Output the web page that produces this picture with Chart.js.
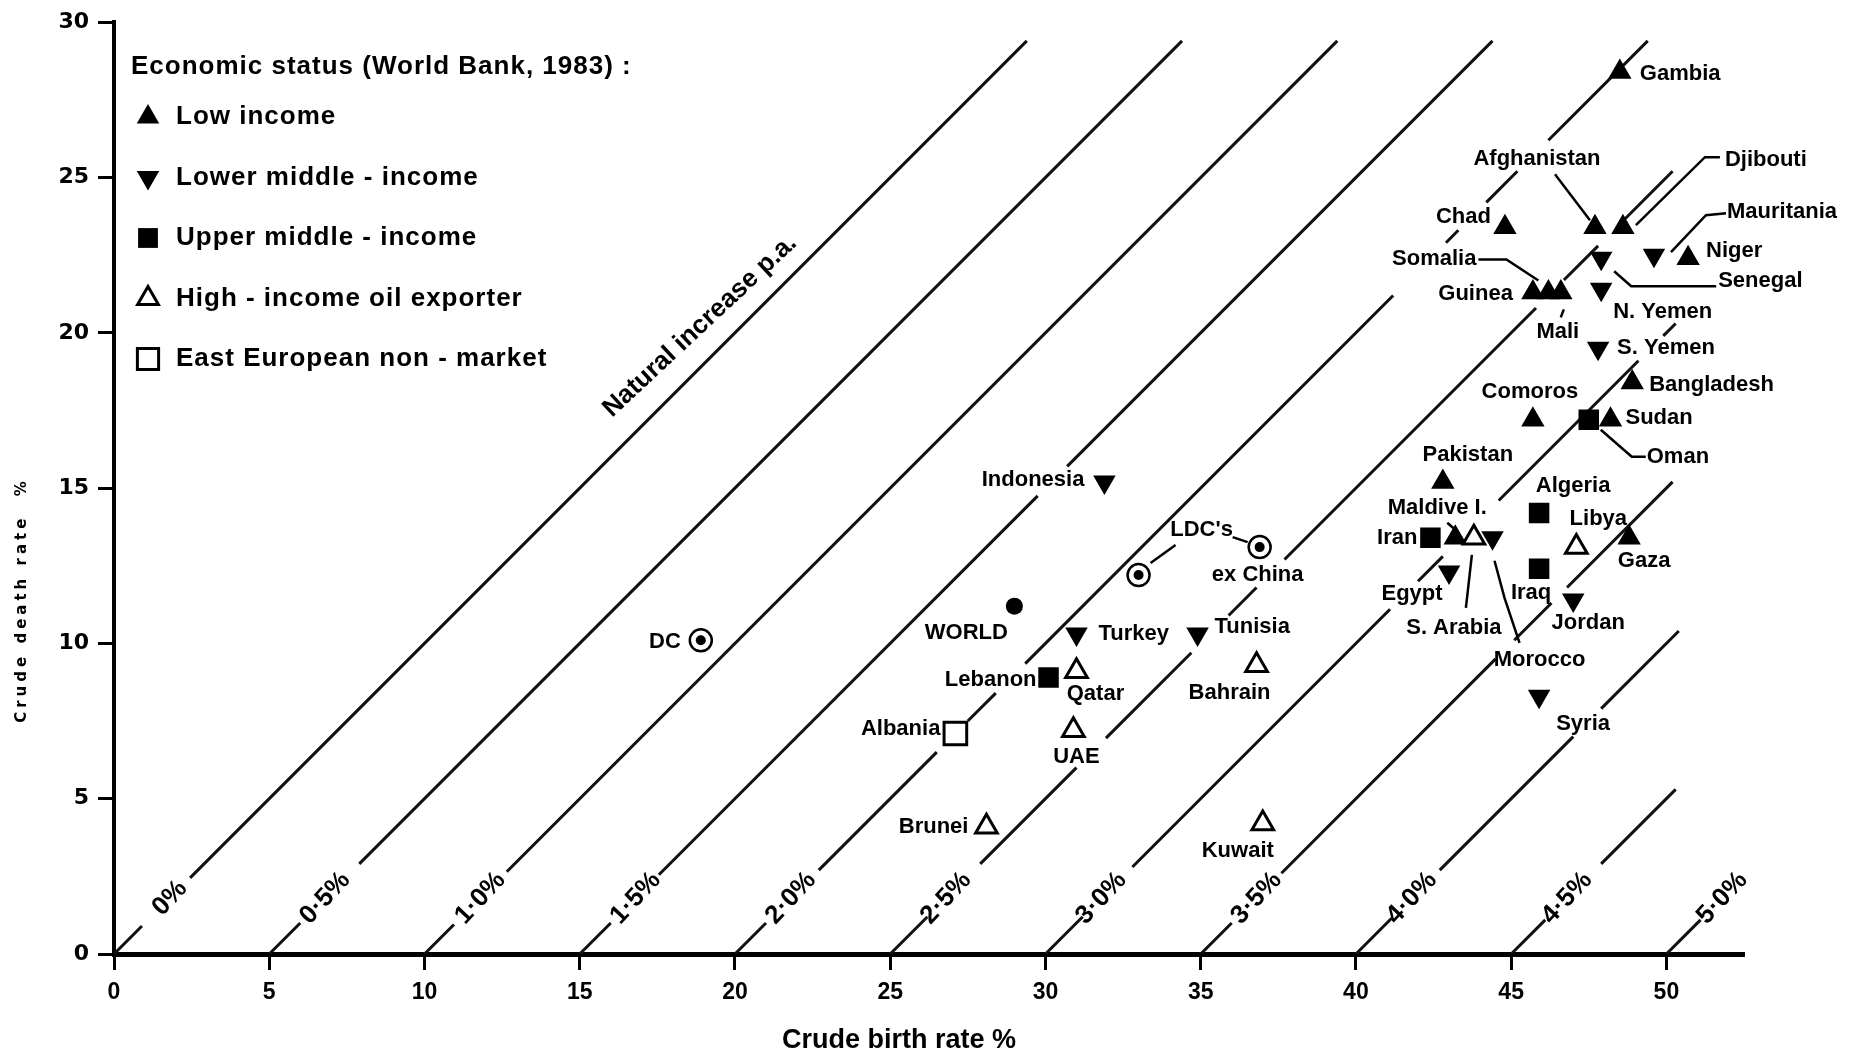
<!DOCTYPE html>
<html>
<head>
<meta charset="utf-8">
<title>Crude birth and death rates</title>
<script src="https://cdn.jsdelivr.net/npm/chart.js@4.4.0/dist/chart.umd.min.js"></script>
<style>
  html, body { margin: 0; padding: 0; background: #fff; }
  #wrap { width: 1864px; height: 1053px; }
</style>
</head>
<body>
<div id="wrap"><canvas id="chart" width="1864" height="1053"></canvas></div>
<script>
// Low income
const lowNames = ['Gambia', 'Afghanistan', 'Djibouti', 'Chad', 'Niger', 'Guinea', 'Somalia', 'Mali',
                  'Bangladesh', 'Comoros', 'Sudan', 'Pakistan', 'Maldive I.', 'Gaza'];
const lowBirth = [48.5, 47.7, 48.6, 44.8, 50.7, 45.7, 46.2, 46.6, 48.9, 45.7, 48.2, 42.8, 43.2, 48.8];
const lowDeath = [28.4, 23.4, 23.4, 23.4, 22.4, 21.3, 21.3, 21.3, 18.4, 17.2, 17.2, 15.2, 13.4, 13.4];

// Lower middle - income
const lowerMidNames = ['Senegal', 'Mauritania', 'N. Yemen', 'S. Yemen', 'Morocco', 'Egypt', 'Jordan',
                       'Syria', 'Indonesia', 'Turkey', 'Tunisia'];
const lowerMidBirth = [47.9, 49.6, 47.9, 47.8, 44.4, 43.0, 47.0, 45.9, 31.9, 31.0, 34.9];
const lowerMidDeath = [22.4, 22.5, 21.4, 19.5, 13.4, 12.3, 11.4, 8.3, 15.2, 10.3, 10.3];

// Upper middle - income
const upperMidNames = ['Oman', 'Iran', 'Algeria', 'Iraq', 'Lebanon'];
const upperMidBirth = [47.5, 42.4, 45.9, 45.9, 30.1];
const upperMidDeath = [17.2, 13.4, 14.2, 12.4, 8.9];

// High - income oil exporter
const oilNames = ['S. Arabia', 'Libya', 'Qatar', 'Bahrain', 'UAE', 'Brunei', 'Kuwait'];
const oilBirth = [43.8, 47.1, 31.0, 36.8, 30.9, 28.1, 37.0];
const oilDeath = [13.4, 13.1, 9.1, 9.3, 7.2, 4.1, 4.2];

// East European non - market
const eastNames = ['Albania'];
const eastBirth = [27.1];
const eastDeath = [7.1];

// World and country groups
const worldBirth = [29.0];
const worldDeath = [11.2];
const groupNames = ['DC', "LDC's", "LDC's ex China"];
const groupBirth = [18.9, 33.0, 36.9];
const groupDeath = [10.1, 12.2, 13.1];

// Natural increase lines: birth - death = rate
const rateValues = [0, 0.5, 1.0, 1.5, 2.0, 2.5, 3.0, 3.5, 4.0, 4.5, 5.0];
const rateLabels = ['0%', '0·5%', '1·0%', '1·5%', '2·0%', '2·5%', '3·0%', '3·5%', '4·0%', '4·5%', '5·0%'];
// visible stretches of each line, as death-rate ranges
const rateSegments = [
  [[0, 0.9], [2.45, 29.4]],
  [[0, 1.0], [2.9, 29.4]],
  [[0, 0.95], [2.65, 29.4]],
  [[0, 1.0], [2.55, 14.75], [15.7, 29.4]],
  [[0, 1.0], [2.7, 6.5], [7.5, 8.4], [9.35, 21.2], [22.9, 23.3], [24.2, 25.2], [26.2, 29.4]],
  [[0, 1.2], [2.9, 6.0], [6.95, 9.7], [10.9, 11.8], [12.7, 20.8], [21.7, 22.8], [23.6, 25.2]],
  [[0, 1.2], [2.8, 11.1], [12.0, 12.8], [14.6, 19.1], [19.9, 20.3]],
  [[0, 1.0], [2.6, 9.5], [10.1, 11.3], [11.8, 15.2]],
  [[0, 1.15], [2.7, 7.0], [7.9, 10.4]],
  [[0, 1.1], [2.9, 5.3]],
  [[0, 1.1]]
];

const xTicks = [0, 5, 10, 15, 20, 25, 30, 35, 40, 45, 50];
const yTicks = [0, 5, 10, 15, 20, 25, 30];

const FONT = '"Liberation Sans", Arial, sans-serif';

// label placement: [dx, dy, align] in pixels from the marker
const labelPlace = {
  'Gambia': [20, 2, 'left'], 'Afghanistan': [-58, -68, 'center'], 'Djibouti': [102, -67, 'left'],
  'Chad': [-14, -10, 'right'], 'Niger': [18, -7, 'left'], 'Guinea': [-20, 2, 'right'],
  'Somalia': [-72, -33, 'right'], 'Mali': [-3, 40, 'center'], 'Bangladesh': [17, 2, 'left'],
  'Comoros': [-3, -28, 'center'], 'Sudan': [15, -2, 'left'], 'Pakistan': [25, -27, 'center'],
  'Maldive I.': [-18, -30, 'center'], 'Gaza': [15, 23, 'center'],
  'Senegal': [117, 23, 'left'], 'Mauritania': [73, -43, 'left'], 'N. Yemen': [12, 23, 'left'],
  'S. Yemen': [19, 0, 'left'], 'Morocco': [47, 122, 'center'], 'Egypt': [-37, 22, 'center'],
  'Jordan': [15, 23, 'center'], 'Syria': [44, 28, 'center'], 'Indonesia': [-20, -2, 'right'],
  'Turkey': [22, 0, 'left'], 'Tunisia': [17, -7, 'left'],
  'Oman': [58, 37, 'left'], 'Iran': [-13, 0, 'right'], 'Algeria': [34, -27, 'center'],
  'Iraq': [-8, 24, 'center'], 'Lebanon': [-12, 2, 'right'],
  'S. Arabia': [-20, 90, 'center'], 'Libya': [22, -28, 'center'], 'Qatar': [19, 23, 'center'],
  'Bahrain': [-27, 28, 'center'], 'UAE': [3, 27, 'center'], 'Brunei': [-18, 0, 'right'],
  'Kuwait': [-25, 27, 'center'], 'Albania': [-15, -5, 'right'],
  'WORLD': [-48, 27, 'center'], 'DC': [-20, 2, 'right']
};
// group labels that do not match the point name
const extraLabels = [
  ["LDC's", "LDC's", 63, -45, 'center'],
  ["LDC's ex China", 'ex China', -2, 28, 'center']
];
// leader lines, pixel offsets from the marker
const leaders = {
  'Afghanistan': [[-40, -53], [-5, -7]],
  'Djibouti': [[13, -2], [82, -70], [97, -70]],
  'Mauritania': [[17, -3], [52, -40], [72, -42]],
  'Somalia': [[-70, -33], [-42, -33], [-10, -12]],
  'Mali': [[0, 25], [3, 17]],
  'Senegal': [[13, 13], [30, 28], [115, 28]],
  'Oman': [[12, 10], [43, 37], [57, 37]],
  'Maldive I.': [[-8, -15], [0, -8]],
  'S. Arabia': [[-2, 17], [-8, 70]],
  'Morocco': [[2, 23], [12, 60], [27, 105]],
  "LDC's": [[12, -12], [37, -30]],
  "LDC's ex China": [[-27, -10], [-12, -5]]
};

function toPoints(bx, dy) {
  return bx.map((b, i) => ({ x: b, y: dy[i] }));
}

// build the natural increase lines as datasets
const lineSets = rateValues.map((r, i) => {
  const pts = [];
  rateSegments[i].forEach(seg => {
    pts.push({ x: r * 10 + seg[0], y: seg[0] });
    pts.push({ x: r * 10 + seg[1], y: seg[1] });
    pts.push({ x: r * 10 + seg[1], y: null });
  });
  return {
    label: rateLabels[i],
    data: pts,
    showLine: true,
    borderColor: '#111',
    borderWidth: 3,
    pointRadius: 0,
    spanGaps: false,
    order: 10
  };
});

const markerSets = [
  { label: 'Low income', names: lowNames, data: toPoints(lowBirth, lowDeath),
    pointStyle: 'triangle', pointRadius: 13.5, backgroundColor: '#000', borderWidth: 0, order: 2 },
  { label: 'Lower middle - income', names: lowerMidNames, data: toPoints(lowerMidBirth, lowerMidDeath),
    pointStyle: 'triangle', rotation: 180, pointRadius: 13, backgroundColor: '#000', borderWidth: 0, order: 2 },
  { label: 'Upper middle - income', names: upperMidNames, data: toPoints(upperMidBirth, upperMidDeath),
    pointStyle: 'rect', pointRadius: 14.5, backgroundColor: '#000', borderWidth: 0, order: 2 },
  { label: 'High - income oil exporter', names: oilNames, data: toPoints(oilBirth, oilDeath),
    pointStyle: 'triangle', pointRadius: 12.5, backgroundColor: '#fff', borderColor: '#000', borderWidth: 3, order: 2 },
  { label: 'East European non - market', names: eastNames, data: toPoints(eastBirth, eastDeath),
    pointStyle: 'rect', pointRadius: 16, backgroundColor: '#fff', borderColor: '#000', borderWidth: 3, order: 2 },
  { label: 'World', names: ['WORLD'], data: toPoints(worldBirth, worldDeath),
    pointStyle: 'circle', pointRadius: 8.5, backgroundColor: '#000', borderWidth: 0, order: 2 },
  { label: 'Groups', names: groupNames, data: toPoints(groupBirth, groupDeath),
    pointStyle: 'circle', pointRadius: 11, backgroundColor: '#fff', borderColor: '#000', borderWidth: 2.5, order: 2 },
  // centre dots of the group rings, drawn on top
  { label: 'Groups centre', names: [], data: toPoints(groupBirth, groupDeath),
    pointStyle: 'circle', pointRadius: 5, backgroundColor: '#000', borderWidth: 0, order: 0 }
].map(d => Object.assign({ pointHoverRadius: d.pointRadius }, d));

const legendItems = [
  { text: 'Low income', style: 'triangle', rotation: 0, radius: 13, fill: '#000', border: 0 },
  { text: 'Lower middle - income', style: 'triangle', rotation: 180, radius: 13, fill: '#000', border: 0 },
  { text: 'Upper middle - income', style: 'rect', rotation: 0, radius: 14, fill: '#000', border: 0 },
  { text: 'High - income oil exporter', style: 'triangle', rotation: 0, radius: 12, fill: '#fff', border: 3 },
  { text: 'East European non - market', style: 'rect', rotation: 0, radius: 15, fill: '#fff', border: 3 }
];

const annotate = {
  id: 'annotate',
  afterDatasetsDraw(chart) {
    const ctx = chart.ctx;
    const xs = chart.scales.x;
    const ys = chart.scales.y;
    ctx.save();
    ctx.fillStyle = '#000';
    ctx.strokeStyle = '#000';
    ctx.textBaseline = 'middle';

    // labels on the natural increase lines
    ctx.font = 'bold 26px ' + FONT;
    ctx.textAlign = 'center';
    rateValues.forEach((r, i) => {
      const px = xs.getPixelForValue(r * 10 + 1.8);
      const py = ys.getPixelForValue(1.8);
      ctx.save();
      ctx.translate(px, py);
      ctx.rotate(-47 * Math.PI / 180);
      ctx.fillText(rateLabels[i], 0, 0);
      ctx.restore();
    });

    ctx.save();
    ctx.font = 'bold 26px ' + FONT;
    ctx.translate(700, 326);
    ctx.rotate(-43 * Math.PI / 180);
    ctx.fillText('Natural increase p.a.', 0, 0);
    ctx.restore();

    // marker positions by name
    const pos = {};
    chart.data.datasets.forEach(ds => {
      if (!ds.names) return;
      ds.names.forEach((n, i) => {
        pos[n] = [xs.getPixelForValue(ds.data[i].x), ys.getPixelForValue(ds.data[i].y)];
      });
    });

    // leader lines
    ctx.lineWidth = 2.5;
    Object.keys(leaders).forEach(n => {
      const p = pos[n];
      if (!p) return;
      ctx.beginPath();
      leaders[n].forEach((o, k) => {
        if (k === 0) ctx.moveTo(p[0] + o[0], p[1] + o[1]);
        else ctx.lineTo(p[0] + o[0], p[1] + o[1]);
      });
      ctx.stroke();
    });

    // point labels
    ctx.font = 'bold 22px ' + FONT;
    Object.keys(labelPlace).forEach(n => {
      const p = pos[n];
      if (!p) return;
      const l = labelPlace[n];
      ctx.textAlign = l[2];
      ctx.fillText(n, p[0] + l[0], p[1] + l[1]);
    });
    extraLabels.forEach(l => {
      const p = pos[l[0]];
      ctx.textAlign = l[4];
      ctx.fillText(l[1], p[0] + l[2], p[1] + l[3]);
    });

    // legend
    ctx.save();
    ctx.textAlign = 'left';
    ctx.font = 'bold 26px ' + FONT;
    ctx.letterSpacing = '1px';
    ctx.fillText('Economic status (World Bank, 1983) :', 131, 67);
    legendItems.forEach((it, i) => {
      const y = 117 + i * 60.5;
      ctx.fillStyle = it.fill;
      ctx.strokeStyle = '#000';
      ctx.lineWidth = it.border;
      Chart.helpers.drawPoint(ctx, {
        pointStyle: it.style, rotation: it.rotation, radius: it.radius, borderWidth: it.border
      }, 148, y);
      ctx.fillStyle = '#000';
      ctx.fillText(it.text, 176, y);
    });
    ctx.restore();

    // axis titles
    ctx.textAlign = 'center';
    ctx.font = 'bold 27px ' + FONT;
    ctx.fillText('Crude birth rate %', 899, 1041);
    ctx.save();
    ctx.translate(22, 600);
    ctx.rotate(-Math.PI / 2);
    ctx.font = 'bold 15px "DejaVu Sans", sans-serif';
    ctx.letterSpacing = '4px';
    ctx.fillText('Crude death rate  %', 0, 0);
    ctx.restore();

    ctx.restore();
  }
};

new Chart(document.getElementById('chart'), {
  type: 'scatter',
  data: { datasets: lineSets.concat(markerSets) },
  options: {
    responsive: false,
    animation: false,
    devicePixelRatio: 1,
    layout: { padding: { left: 0, right: 120, top: 20, bottom: 0 } },
    plugins: { legend: { display: false }, tooltip: { enabled: false } },
    scales: {
      x: {
        type: 'linear',
        min: 0,
        max: 52.5,
        afterFit(s) { s.height = 99; },
        afterBuildTicks(s) { s.ticks = xTicks.map(v => ({ value: v })); },
        ticks: {
          color: '#000',
          padding: 9,
          maxRotation: 0,
          font: { family: '"Liberation Sans Narrow", "Liberation Sans", Arial', size: 23, weight: 'bold' }
        },
        grid: { drawOnChartArea: false, tickLength: 16, tickWidth: 3, tickColor: '#000' },
        border: { display: true, color: '#000', width: 5 }
      },
      y: {
        type: 'linear',
        min: 0,
        max: 30,
        afterFit(s) { s.width = 114; },
        afterBuildTicks(s) { s.ticks = yTicks.map(v => ({ value: v })); },
        ticks: {
          color: '#000',
          padding: 9,
          font: { family: '"DejaVu Sans", sans-serif', size: 22, weight: 'bold' }
        },
        grid: { drawOnChartArea: false, tickLength: 16, tickWidth: 3, tickColor: '#000' },
        border: { display: true, color: '#000', width: 4 }
      }
    }
  },
  plugins: [annotate]
});
</script>
</body>
</html>
